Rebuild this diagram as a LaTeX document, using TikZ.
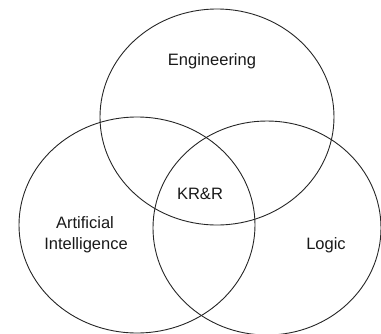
\documentclass[tikz,border=0pt]{standalone}
\usepackage{fontspec}
\setmainfont{Liberation Sans}
\usetikzlibrary{shapes.geometric}
\begin{document}
\begin{tikzpicture}[x=1pt,y=-1pt,
  venn/.style={draw=black!85, line width=0.9pt, ellipse, inner sep=0pt},
  lbl/.style={font=\fontsize{16.5}{21}\selectfont, text=black!90, anchor=base, align=center, inner sep=0pt}]
\useasboundingbox (0,0) rectangle (381,333);
\node[venn, minimum width=234pt, minimum height=216pt] (eng) at (217,117) {};
\node[venn, minimum width=236pt, minimum height=216pt] (ai) at (137,225) {};
\node[venn, minimum width=228pt, minimum height=214pt] (logic) at (267,228) {};
\node[lbl] (tEng) at (212,65.5) {Engineering};
\node[lbl] (tKR) at (200,199) {KR\&R};
\node[lbl] (tAI1) at (85,228) {Artificial};
\node[lbl] (tAI2) at (86,249) {Intelligence};
\node[lbl] (tLog) at (326,249) {Logic};
\end{tikzpicture}
\end{document}
